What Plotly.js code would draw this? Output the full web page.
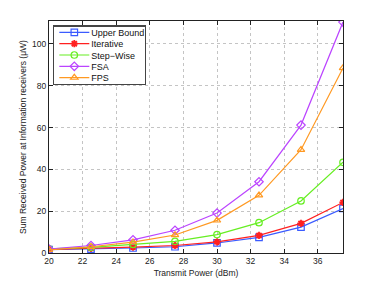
<!DOCTYPE html>
<html><head><meta charset="utf-8">
<script src="https://cdn.plot.ly/plotly-3.0.1.min.js"></script>
<style>html,body{margin:0;padding:0;background:#fff}</style>
</head><body>
<div id="chart" style="width:379px;height:285px"></div>
<script>
var txPower = [20, 22.5, 25, 27.5, 30, 32.5, 35, 37.5];
var upperBound = [1.6, 1.9, 2.4, 3.0, 4.8, 7.5, 12.4, 21.3];
var iterative  = [1.7, 2.2, 2.8, 3.6, 5.3, 8.4, 14.2, 24.2];
var stepWise   = [2.0, 2.7, 4.1, 5.6, 8.8, 14.5, 24.9, 43.4];
var fsa        = [1.9, 3.6, 6.3, 10.9, 19.1, 34.1, 61.2, 110.5];
var fps        = [1.5, 3.0, 5.2, 8.6, 15.6, 27.6, 49.4, 88.5];
var seriesNames = ['Upper Bound', 'Iterative', 'Step\u2212Wise', 'FSA', 'FPS'];
var xTicks = [20, 22, 24, 26, 28, 30, 32, 34, 36];
var yTicks = [0, 20, 40, 60, 80, 100];

var colors = ['#3b5bff', '#ff2020', '#66ee22', '#bb44ff', '#ff9922'];
var symbols = ['square-open', 'asterisk-open', 'circle-open', 'diamond-open', 'triangle-up-open'];
var allY = [upperBound, iterative, stepWise, fsa, fps];
var FONT = 'Liberation Sans, Arial, sans-serif';

var traces = allY.map(function(y, i){
  return {
    x: txPower, y: y, name: seriesNames[i], type: 'scatter', mode: 'lines+markers',
    line: {color: colors[i], width: 1.2},
    marker: {symbol: symbols[i], size: i === 1 ? 6 : 6.5, color: colors[i], line: {color: colors[i], width: i === 1 ? 1.8 : 1.2}}
  };
});

var axisCommon = {
  showline: true, linecolor: '#222', linewidth: 1, mirror: 'allticks',
  ticks: 'inside', ticklen: 4, tickcolor: '#222',
  showgrid: true, gridcolor: '#c4c4c4', griddash: 'dot', gridwidth: 1,
  zeroline: false, tickfont: {family: FONT, size: 8.5, color: '#222'}
};

var layout = {
  width: 379, height: 285,
  margin: {l: 49, r: 36, t: 21, b: 32},
  paper_bgcolor: '#fff', plot_bgcolor: '#fff',
  showlegend: true,
  xaxis: Object.assign({}, axisCommon, {
    range: [20, 37.5], tickvals: xTicks,
    title: {text: 'Transmit Power (dBm)', font: {family: FONT, size: 8.5, color: '#222'}, standoff: 4}
  }),
  yaxis: Object.assign({}, axisCommon, {
    range: [0, 111], tickvals: yTicks,
    title: {text: 'Sum Received Power at Information receivers (\u03bcW)', font: {family: FONT, size: 8.5, color: '#222'}, standoff: 4}
  }),
  legend: {
    x: 0.014, y: 0.981, xanchor: 'left', yanchor: 'top',
    bgcolor: '#fff', bordercolor: '#444', borderwidth: 1.2,
    font: {family: FONT, size: 9, color: '#111'},
    tracegroupgap: 0, itemwidth: 30
  }
};

Plotly.newPlot('chart', traces, layout, {displayModeBar: false, staticPlot: true}).then(function(gd){
  var leg = gd.querySelector('.legend');
  if (!leg) return;
  var items = leg.querySelectorAll('.traces');
  var step = 11.3, y0 = 7;
  items.forEach(function(t, i){
    var tr = t.getAttribute('transform') || '';
    var m = /translate\(\s*([-\d.]+)[ ,]+([-\d.]+)/.exec(tr);
    var x = m ? parseFloat(m[1]) : 0;
    t.setAttribute('transform', 'translate(' + x + ',' + (y0 + i * step) + ')');
    var txt = t.querySelector('text.legendtext');
    if (txt) txt.setAttribute('x', 37);
  });
  var bg = leg.querySelector('rect.bg');
  if (bg) { bg.setAttribute('height', y0 + 4 * step + 6.5); bg.setAttribute('width', 92); }
});
</script>
</body></html>
